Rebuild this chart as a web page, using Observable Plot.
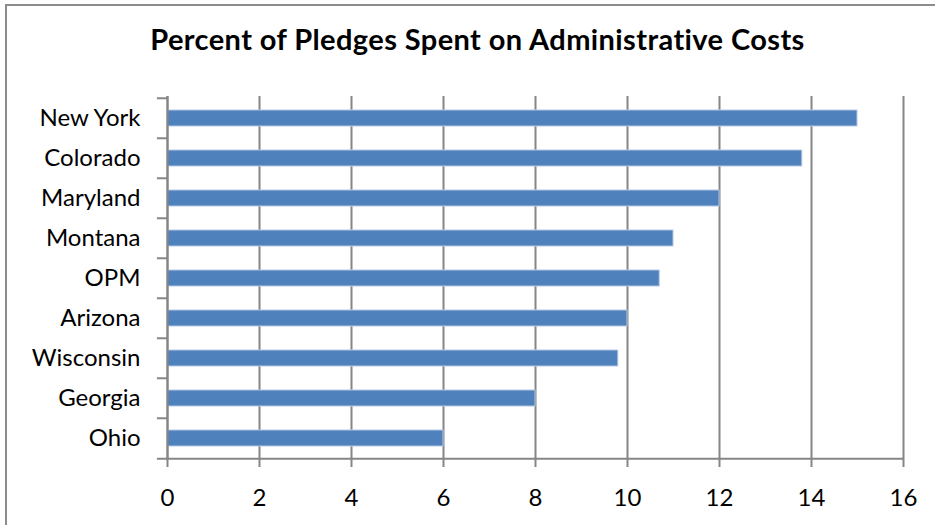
<!DOCTYPE html>
<html>
<head>
<meta charset="utf-8">
<script src="https://cdn.jsdelivr.net/npm/d3@7"></script>
<script src="https://cdn.jsdelivr.net/npm/@observablehq/plot@0.6"></script>
<style>
  html, body { margin: 0; padding: 0; background: #fff; overflow: hidden; }
  #wrap { position: relative; width: 935px; height: 525px; }
  #border { position: absolute; left: 5px; top: 4px; width: 960px; height: 560px; border: 2px solid #8c8c8c; box-sizing: border-box; }
  #title { position: absolute; left: 0; top: 21px; width: 955px; text-align: center; font-family: Lato, sans-serif; font-weight: bold; font-size: 29px; letter-spacing: 0.4px; line-height: normal; color: #000; }
  #chart { position: absolute; left: 0; top: 0; }
</style>
</head>
<body>
<div id="wrap">
  <div id="border"></div>
  <div id="title">Percent of Pledges Spent on Administrative Costs</div>
  <div id="chart"></div>
</div>
<script>
const states = ["New York", "Colorado", "Maryland", "Montana", "OPM", "Arizona", "Wisconsin", "Georgia", "Ohio"];
const values = [15, 13.8, 12, 11, 10.7, 10, 9.8, 8, 6];
const xTicks = [0, 2, 4, 6, 8, 10, 12, 14, 16];

const data = states.map((s, i) => ({state: s, value: values[i]}));
const halfStep = 364 / 9 / 2;

const chart = Plot.plot({
  width: 935,
  height: 525,
  marginTop: 96,
  marginBottom: 65,
  marginLeft: 167,
  marginRight: 32,
  style: {fontFamily: "Lato, sans-serif", fontSize: "24px", color: "#000", background: "transparent"},
  x: {domain: [0, 16], ticks: xTicks, label: null},
  y: {domain: states, paddingInner: 0.6, paddingOuter: 0.3, label: null},
  marks: [
    Plot.gridX(xTicks, {stroke: "#868686", strokeOpacity: 1, strokeWidth: 2}),
    Plot.barX(data, {y: "state", x: "value", fill: "#4F81BD", stroke: "#B3C8E3", strokeWidth: 1}),
    Plot.ruleX([0], {stroke: "#868686", strokeWidth: 2}),
    Plot.ruleY(states, {y: d => d, x1: -0.22, x2: 0, dy: -halfStep, stroke: "#868686", strokeWidth: 2, clip: false}),
    Plot.ruleY(["Ohio"], {y: d => d, x1: -0.22, x2: 16, dy: halfStep, stroke: "#868686", strokeWidth: 2, clip: false}),
    Plot.axisX({ticks: xTicks, tickSize: 7, tickPadding: 21, stroke: "#868686", strokeWidth: 2, fontSize: 24, label: null}),
    Plot.axisY({tickSize: 0, tickPadding: 27, fontSize: 24, label: null})
  ]
});
document.getElementById("chart").appendChild(chart);
</script>
</body>
</html>
